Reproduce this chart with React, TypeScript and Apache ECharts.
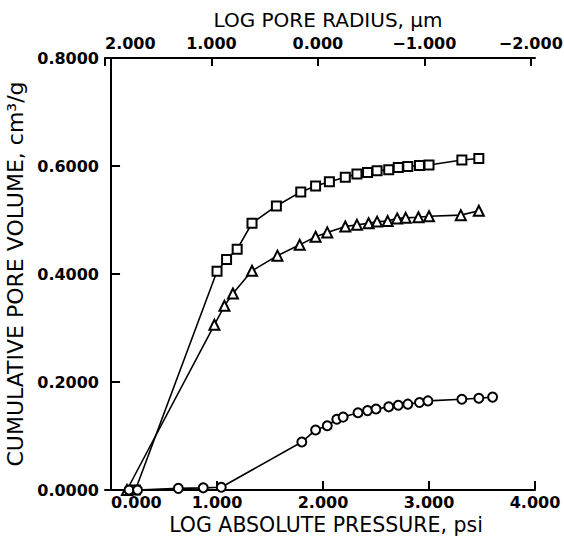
import React, { useEffect, useRef } from 'react';
import * as echarts from 'echarts';

// Tick values
const PRESSURE_TICKS = [0, 1, 2, 3, 4];
const RADIUS_TICKS = [-2, -1, 0, 1, 2];

// Series: squares
const SQUARE_X = [0.23, 1.0, 1.09, 1.19, 1.33, 1.56, 1.79, 1.93, 2.06, 2.21, 2.32, 2.42, 2.51, 2.62, 2.71, 2.8, 2.91, 3.0, 3.31, 3.47];
const SQUARE_Y = [0, 0.405, 0.427, 0.446, 0.494, 0.526, 0.552, 0.563, 0.571, 0.579, 0.585, 0.588, 0.591, 0.593, 0.597, 0.599, 0.601, 0.602, 0.611, 0.614];

// Series: triangles
const TRIANGLE_X = [0.15, 0.975, 1.07, 1.15, 1.33, 1.57, 1.78, 1.93, 2.04, 2.21, 2.32, 2.43, 2.51, 2.61, 2.7, 2.78, 2.9, 3.0, 3.3, 3.47];
const TRIANGLE_Y = [0, 0.306, 0.341, 0.364, 0.406, 0.434, 0.454, 0.469, 0.477, 0.488, 0.491, 0.494, 0.497, 0.498, 0.503, 0.504, 0.505, 0.507, 0.509, 0.517];

// Series: circles
const CIRCLE_X = [0.17, 0.25, 0.635, 0.87, 1.04, 1.8, 1.93, 2.04, 2.13, 2.19, 2.33, 2.42, 2.5, 2.62, 2.71, 2.8, 2.91, 2.99, 3.31, 3.47, 3.6];
const CIRCLE_Y = [0, 0, 0.003, 0.004, 0.005, 0.089, 0.111, 0.119, 0.131, 0.135, 0.143, 0.147, 0.15, 0.154, 0.157, 0.159, 0.162, 0.165, 0.168, 0.17, 0.172];

const pairs = (xs: number[], ys: number[]) => xs.map((x, i) => [x, ys[i]]);
const fmt = (v: number, d: number) => {
  const r = Math.round(v);
  const n = Math.abs(v - r) < 0.01 ? r : v;
  if (n === 0) return (0).toFixed(d);
  return (n < 0 ? '\u2212' : '') + Math.abs(n).toFixed(d);
};

export default function App() {
  const ref = useRef<HTMLDivElement>(null);
  useEffect(() => {
    const chart = echarts.init(ref.current!, null, { renderer: 'svg' });
    const tickFont = { fontFamily: 'DejaVu Sans', fontWeight: 'bold' as const, fontSize: 16, color: '#000' };
    const nameFont = { fontFamily: 'DejaVu Sans', fontSize: 20, color: '#000' };
    const axisLine = { show: true, lineStyle: { color: '#000', width: 2 } };
    const markerStyle = { color: '#fff', borderColor: '#000', borderWidth: 2 };
    const lineStyle = { color: '#000', width: 1.6 };
    chart.setOption({
      animation: false,
      backgroundColor: '#fff',
      grid: { left: 105, top: 58, width: 430, height: 432, containLabel: false, outerBoundsMode: 'none' },
      xAxis: [
        {
          type: 'value',
          position: 'bottom',
          min: -0.057,
          max: 4,
          axisLine,
          splitLine: { show: false },
          axisTick: { inside: true, length: 9, lineStyle: { color: '#000', width: 2 }, customValues: PRESSURE_TICKS },
          axisLabel: {
            ...tickFont,
            margin: 4,
            customValues: PRESSURE_TICKS,
            hideOverlap: false,
            alignMinLabel: 'left',
            formatter: (v: number) => fmt(v, 3),
          },
          name: 'LOG ABSOLUTE PRESSURE, psi',
          nameLocation: 'middle',
          nameGap: 17,
          nameTextStyle: { ...nameFont, fontSize: 20.5, padding: [0, 0, 0, 12] },
        },
        {
          type: 'value',
          position: 'top',
          inverse: true,
          min: -2.04,
          max: 2,
          axisLine,
          splitLine: { show: false },
          axisTick: { inside: true, length: 8, lineStyle: { color: '#000', width: 2 }, customValues: RADIUS_TICKS },
          axisLabel: {
            ...tickFont,
            margin: 7,
            customValues: RADIUS_TICKS,
            hideOverlap: false,
            alignMaxLabel: 'left',
            formatter: (v: number) => fmt(v, 3),
          },
          name: 'LOG PORE RADIUS, \u03bcm',
          nameLocation: 'middle',
          nameGap: 27,
          nameTextStyle: { ...nameFont, padding: [0, 0, 0, 16] },
        },
      ],
      yAxis: {
        type: 'value',
        min: 0,
        max: 0.8,
        interval: 0.2,
        axisLine,
        splitLine: { show: false },
        axisTick: { inside: true, length: 9, lineStyle: { color: '#000', width: 2 } },
        axisLabel: {
          ...tickFont,
          margin: 6,
          showMinLabel: true,
          showMaxLabel: true,
          hideOverlap: false,
          formatter: (v: number) => (Math.abs(v) < 1e-9 ? 0 : v).toFixed(4),
        },
        name: 'CUMULATIVE PORE VOLUME, cm\u00b3/g',
        nameLocation: 'middle',
        nameRotate: 90,
        nameGap: 69,
        nameTextStyle: { ...nameFont, fontSize: 22 },
      },
      series: [
        {
          type: 'line',
          xAxisIndex: 0,
          data: pairs(SQUARE_X, SQUARE_Y),
          symbol: 'rect',
          symbolSize: 9,
          showAllSymbol: true,
          itemStyle: markerStyle,
          lineStyle,
        },
        {
          type: 'line',
          xAxisIndex: 0,
          data: pairs(TRIANGLE_X, TRIANGLE_Y),
          symbol: 'triangle',
          symbolSize: 10,
          showAllSymbol: true,
          itemStyle: markerStyle,
          lineStyle,
        },
        {
          type: 'line',
          xAxisIndex: 0,
          data: pairs(CIRCLE_X, CIRCLE_Y),
          symbol: 'circle',
          symbolSize: 9,
          showAllSymbol: true,
          itemStyle: markerStyle,
          lineStyle,
        },
      ],
    });
    return () => chart.dispose();
  }, []);
  return (
    <div
      ref={ref}
      style={{ position: 'fixed', left: 0, top: 0, width: 564, height: 537, background: '#fff' }}
    />
  );
}
